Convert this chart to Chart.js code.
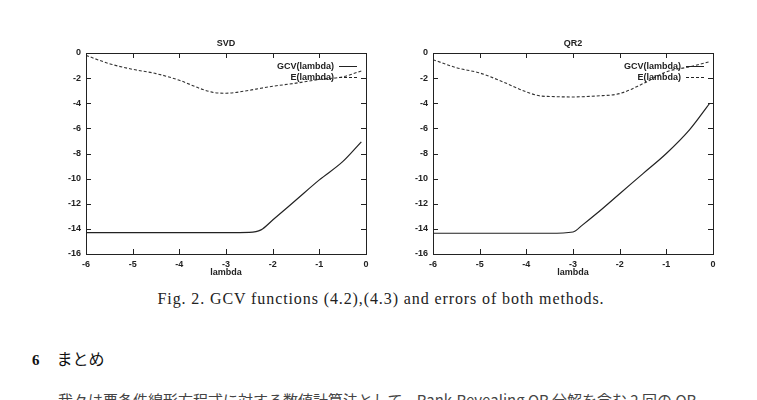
<!DOCTYPE html>
<html>
<head>
<meta charset="utf-8">
<script src="https://cdn.jsdelivr.net/npm/chart.js@4.4.0/dist/chart.umd.min.js"></script>
<style>
  html, body { margin: 0; padding: 0; background: #fff; }
  body { width: 757px; height: 400px; position: relative; overflow: hidden; }
  .plot { position: absolute; top: 30px; width: 330px; height: 250px; }
  #caption { position: absolute; top: 290px; left: 0; width: 762px; text-align: center; line-height: 18px;
    font: 16px "Liberation Serif", "DejaVu Serif", serif; letter-spacing: 0.9px; color: #222; }
  #section { position: absolute; top: 346px; left: 32px; line-height: 20px; color: #111;
    font: 16px "Noto Sans CJK JP", sans-serif; }
  #section b { font: bold 15px "Liberation Serif", serif; margin-right: 17px; }
  #body { position: absolute; top: 389px; left: 58px; white-space: nowrap; line-height: 20px; color: #444;
    font: 15px "Noto Sans CJK JP", sans-serif; }
</style>
</head>
<body>
<div class="plot" style="left:50px"><canvas id="svd" width="330" height="250"></canvas></div>
<div class="plot" style="left:397px"><canvas id="qr2" width="330" height="250"></canvas></div>
<div id="caption">Fig. 2. GCV functions (4.2),(4.3) and errors of both methods.</div>
<div id="section"><b>6</b>まとめ</div>
<div id="body">我々は悪条件線形方程式に対する数値計算法として、Rank-Revealing QR 分解を含む 2 回の QR</div>
<script>
// values (log10 scale)
const svdLambda = [-6, -5.5, -5, -4.5, -4, -3.5, -3.2, -3, -2.5, -2.25, -2, -1.5, -1, -0.5, -0.1];
const svdGcv = [-14.3, -14.3, -14.3, -14.3, -14.3, -14.3, -14.3, -14.3, -14.28, -14.08, -13.3, -11.7, -10.1, -8.65, -7.07];
const svdErr = [-0.19, -0.85, -1.3, -1.64, -2.17, -2.9, -3.18, -3.2, -2.97, -2.8, -2.65, -2.4, -2.1, -1.9, -1.43];

const qrLambda = [-6, -5.5, -5, -4.5, -4, -3.7, -3.5, -3, -2.8, -2.5, -2, -1.5, -1, -0.5, -0.08];
const qrGcv = [-14.35, -14.35, -14.35, -14.35, -14.35, -14.35, -14.35, -14.25, -13.7, -12.8, -11.2, -9.6, -8.0, -6.1, -4.05];
const qrErr = [-0.53, -1.17, -1.59, -2.3, -3.1, -3.42, -3.46, -3.5, -3.48, -3.42, -3.23, -2.44, -1.5, -1.1, -0.7];

const xTicks = [-6, -5, -4, -3, -2, -1, 0];
const yTicks = [-16, -14, -12, -10, -8, -6, -4, -2, 0];

const ink = '#222';
const labelFont = { family: '"Liberation Sans", Arial, sans-serif', size: 9, weight: 'bold', lineHeight: 1.25 };

// gnuplot style box, inward ticks on all four sides, legend inside top right
const framePlugin = {
    id: 'frame',
    afterDatasetsDraw(chart) {
        const { ctx, chartArea: a, scales } = chart;
        ctx.save();
        ctx.strokeStyle = ink;
        ctx.lineWidth = 1;
        ctx.strokeRect(a.left + 0.5, a.top + 0.5, a.width, a.height);
        ctx.beginPath();
        xTicks.forEach(v => {
            const px = Math.round(scales.x.getPixelForValue(v)) + 0.5;
            ctx.moveTo(px, a.bottom); ctx.lineTo(px, a.bottom - 5);
            ctx.moveTo(px, a.top); ctx.lineTo(px, a.top + 5);
        });
        yTicks.forEach(v => {
            const py = Math.round(scales.y.getPixelForValue(v)) + 0.5;
            ctx.moveTo(a.left, py); ctx.lineTo(a.left + 5, py);
            ctx.moveTo(a.right, py); ctx.lineTo(a.right - 5, py);
        });
        ctx.stroke();

        ctx.font = 'bold 9px "Liberation Sans", Arial, sans-serif';
        ctx.textAlign = 'right';
        ctx.textBaseline = 'middle';
        ctx.fillStyle = ink;
        chart.data.datasets.forEach((ds, i) => {
            const ly = a.top + 13.5 + i * 11;
            ctx.fillText(ds.label, a.right - 32, ly);
            ctx.setLineDash(ds.borderDash || []);
            ctx.lineWidth = 1;
            ctx.beginPath();
            ctx.moveTo(a.right - 27, ly);
            ctx.lineTo(a.right - 9, ly);
            ctx.stroke();
        });
        ctx.restore();
    },
};

function makeChart(id, title, lambdas, gcv, err) {
    const toPoints = arr => arr.map((v, i) => ({ x: lambdas[i], y: v }));
    return new Chart(document.getElementById(id), {
        type: 'line',
        data: {
            datasets: [
                {
                    label: 'GCV(lambda)',
                    data: toPoints(gcv),
                    borderColor: ink,
                    borderWidth: 1.2,
                    pointRadius: 0,
                    cubicInterpolationMode: 'monotone',
                },
                {
                    label: 'E(lambda)',
                    data: toPoints(err),
                    borderColor: '#333',
                    borderWidth: 1.1,
                    borderDash: [3, 2],
                    pointRadius: 0,
                    cubicInterpolationMode: 'monotone',
                },
            ],
        },
        options: {
            responsive: false,
            devicePixelRatio: 1,
            animation: false,
            layout: { padding: { top: 0, right: 14, left: 0, bottom: 0 } },
            plugins: {
                legend: { display: false },
                tooltip: { enabled: false },
                title: {
                    display: true,
                    text: title,
                    fullSize: false,
                    color: ink,
                    font: labelFont,
                    padding: { top: 7.5, bottom: 4.25 },
                },
            },
            scales: {
                x: {
                    type: 'linear',
                    min: -6,
                    max: 0,
                    afterBuildTicks: s => { s.ticks = xTicks.map(v => ({ value: v })); },
                    afterFit: s => { s.height = 26; },
                    grid: { display: false, drawTicks: false },
                    border: { display: false },
                    ticks: { color: ink, font: labelFont, padding: 5, maxRotation: 0 },
                    title: { display: true, text: 'lambda', color: ink, font: labelFont, padding: { top: 0, bottom: 2 } },
                },
                y: {
                    type: 'linear',
                    min: -16,
                    max: 0,
                    afterBuildTicks: s => { s.ticks = yTicks.map(v => ({ value: v })); },
                    afterFit: s => { s.width = 36; },
                    grid: { display: false, drawTicks: false },
                    border: { display: false },
                    ticks: { color: ink, font: labelFont, padding: 5 },
                },
            },
        },
        plugins: [framePlugin],
    });
}

makeChart('svd', 'SVD', svdLambda, svdGcv, svdErr);
makeChart('qr2', 'QR2', qrLambda, qrGcv, qrErr);
</script>
</body>
</html>
